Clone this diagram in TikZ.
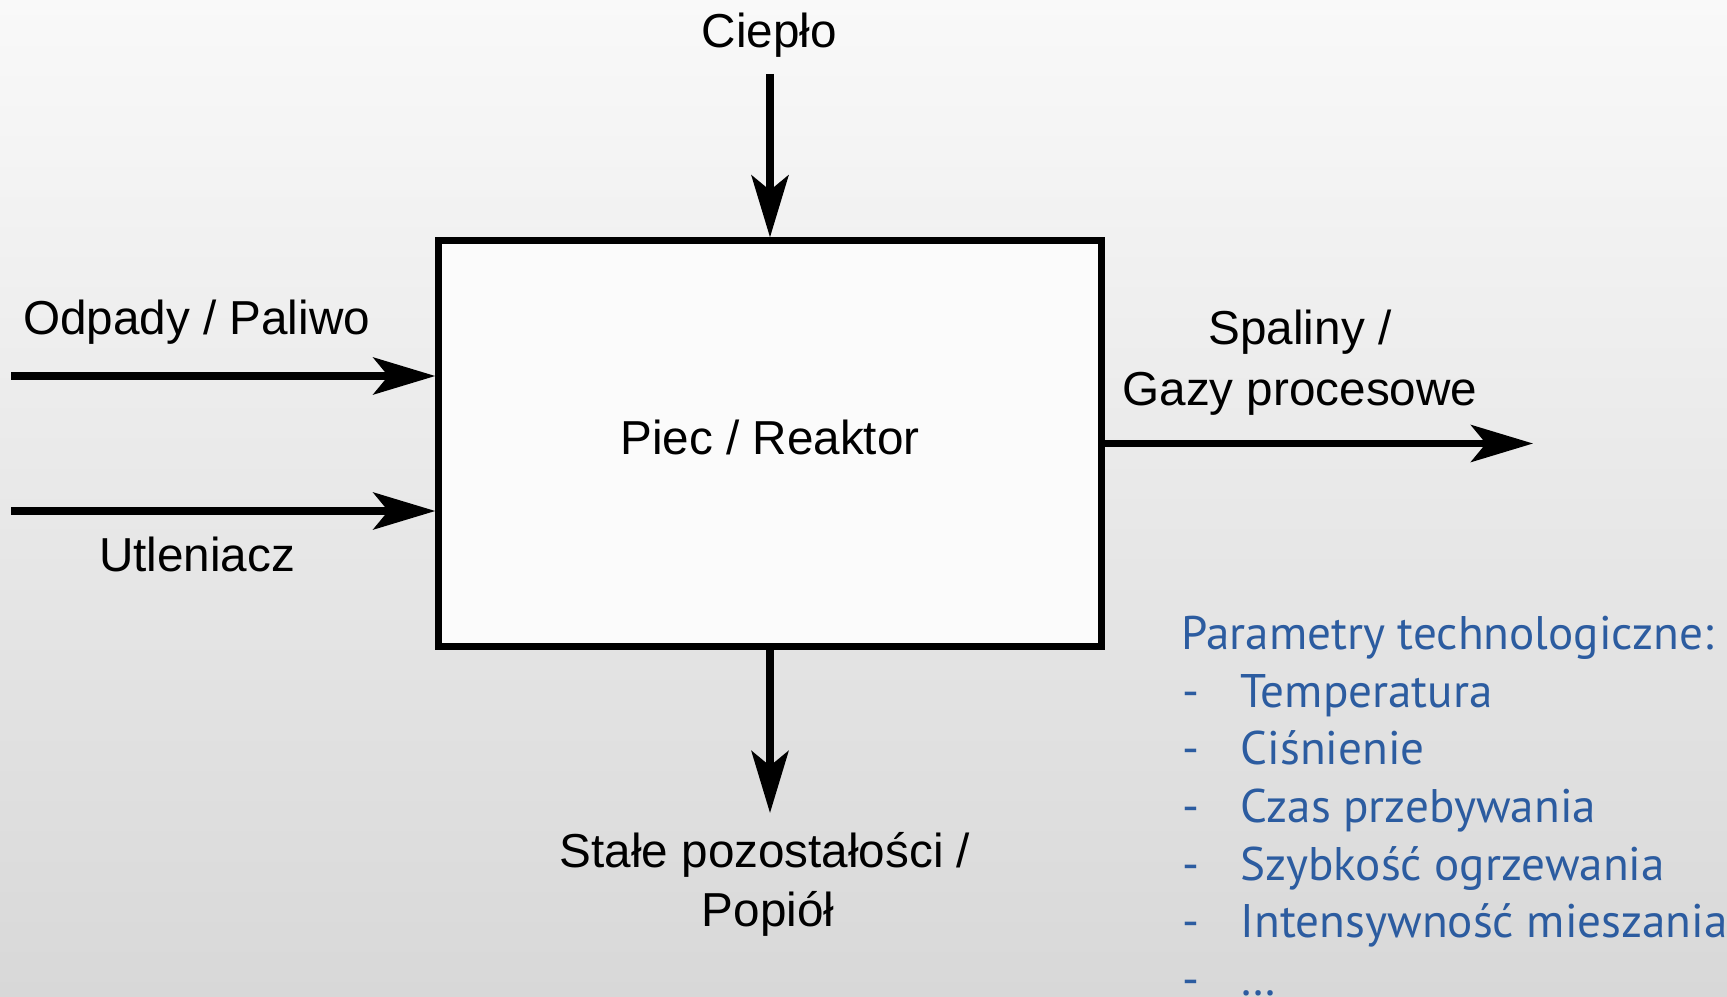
\documentclass[tikz,border=0pt]{standalone}
\usepackage{fontspec}
\setmainfont{Liberation Sans}
\newfontfamily\paramfont{PT Sans}
\usetikzlibrary{arrows.meta}
\definecolor{paramblue}{RGB}{44,92,160}
\definecolor{bgtop}{RGB}{249,249,249}
\definecolor{bgbottom}{RGB}{216,216,216}
\definecolor{boxfill}{RGB}{251,251,251}
\begin{document}
\begin{tikzpicture}[x=0.01cm, y=-0.01cm,
  flow/.style={line width=2pt, -{Stealth[length=0.62cm, width=0.37cm, inset=0.15cm]}},
  lbl/.style={anchor=base, inner sep=0, font=\fontsize{13.55pt}{16pt}\selectfont},
  param/.style={anchor=base west, inner sep=0, text=paramblue,
    font=\paramfont\fontsize{13.4pt}{16pt}\selectfont}]
  % background with a soft vertical gradient
  \fill[top color=bgtop, bottom color=bgbottom] (0,0) rectangle (1727,997);
  \useasboundingbox (0,0) rectangle (1727,997);
  \clip (0,0) rectangle (1727,997);

  % reactor block
  \node[draw, line width=2pt, fill=boxfill, minimum width=6.62cm, minimum height=4.05cm,
        inner sep=0, text height=0.34cm, text depth=0.13cm,
        font=\fontsize{13.55pt}{16pt}\selectfont] (reactor) at (770,443.5) {Piec / Reaktor};

  % free ends of the streams
  \coordinate (fuelIn) at (11,376);
  \coordinate (oxIn)   at (11,511);
  \coordinate (heatIn) at (770,74);
  \coordinate (ashOut) at (770,813);
  \coordinate (gasOut) at (1533,443.5);

  \draw[flow] (fuelIn) -- (fuelIn -| reactor.west);
  \draw[flow] (oxIn)   -- (oxIn -| reactor.west);
  \draw[flow] (heatIn) -- (reactor.north);
  \draw[flow] (reactor.south) -- (ashOut);
  \draw[flow] (reactor.east) -- (gasOut);

  % stream labels
  \node[lbl] (heat) at (769.5,48)  {Ciepło};
  \node[lbl] (fuel) at (196.5,334) {Odpady / Paliwo};
  \node[lbl] (ox)   at (197,571)   {Utleniacz};
  \node[lbl] (gas1) at (1300,344)  {Spaliny /};
  \node[lbl] (gas2) at (1300,405)  {Gazy procesowe};
  \node[lbl] (ash1) at (765,867)   {Stałe pozostałości /};
  \node[lbl] (ash2) at (768,926)   {Popiół};

  % process parameters
  \node[param] (params) at (1181,649) {Parametry technologiczne:};
  \foreach \y/\t [count=\i] in {707/Temperatura, 764.5/Ciśnienie, 822/Czas przebywania,
      880/Szybkość ogrzewania, 937.5/Intensywność mieszania, 995/\dots} {
    \node[param] (dash\i) at (1182,\y) {-};
    \node[param] (item\i) at (1240,\y) {\t};
  }
\end{tikzpicture}
\end{document}
